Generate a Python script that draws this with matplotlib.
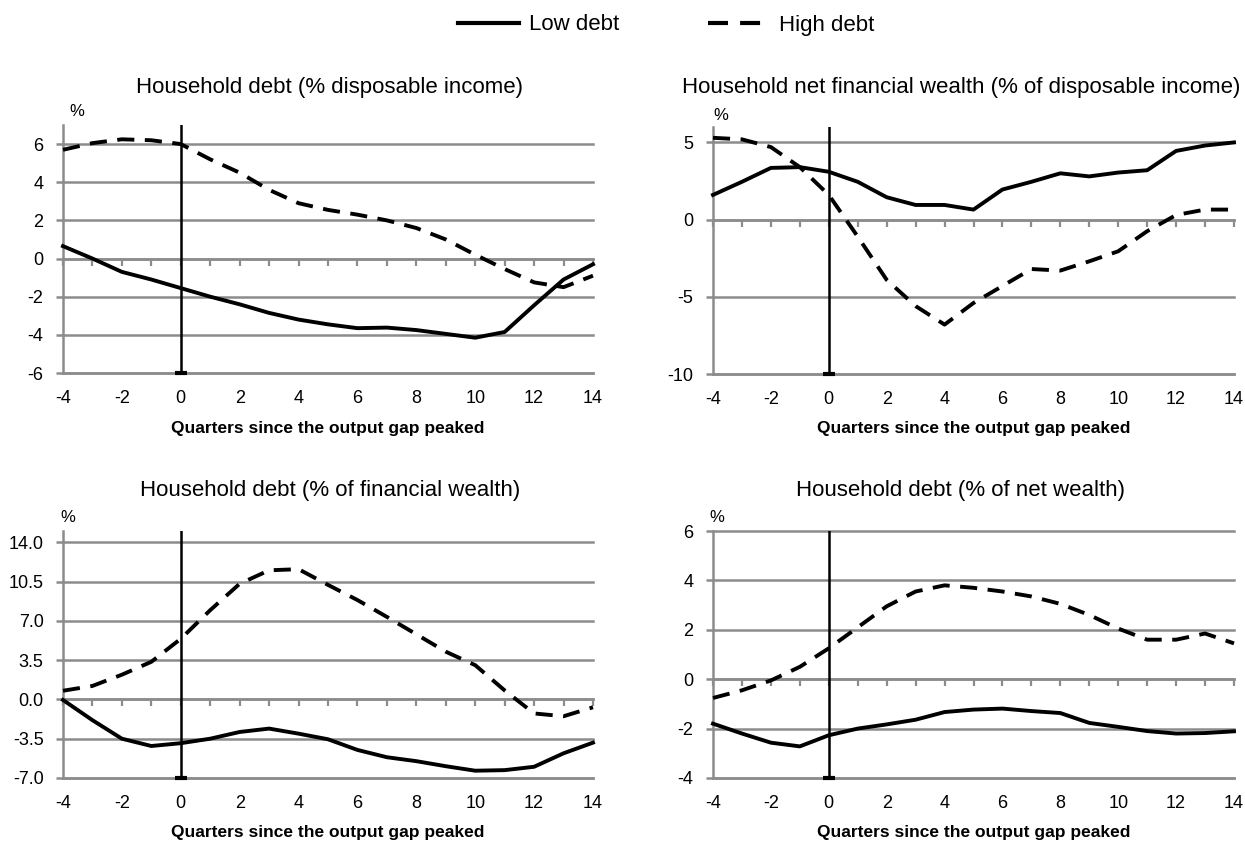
import matplotlib
matplotlib.use("Agg")
import matplotlib.pyplot as plt
from matplotlib.ticker import FormatStrFormatter
from matplotlib.lines import Line2D

plt.rcParams["axes.unicode_minus"] = False

# ---- data -------------------------------------------------------------
quarters = list(range(-4, 15))

# Household debt (% disposable income)
debt_inc_low = [0.65, 0.0, -0.7, -1.1, -1.55, -2.0, -2.4, -2.85, -3.2, -3.45,
                -3.65, -3.62, -3.75, -3.95, -4.15, -3.85, -2.45, -1.1, -0.3]
debt_inc_high = [5.7, 6.05, 6.25, 6.2, 6.0, 5.2, 4.5, 3.6, 2.9, 2.55,
                 2.3, 2.0, 1.6, 1.0, 0.2, -0.55, -1.25, -1.5, -0.9]

# Household net financial wealth (% of disposable income)
nfw_low = [1.6, 2.45, 3.35, 3.4, 3.1, 2.45, 1.45, 0.95, 0.95, 0.65,
           1.95, 2.45, 3.0, 2.8, 3.05, 3.2, 4.45, 4.8, 5.0]
nfw_high = [5.3, 5.2, 4.7, 3.4, 1.6, -1.1, -3.9, -5.6, -6.8, -5.4,
            -4.3, -3.2, -3.3, -2.7, -2.05, -0.75, 0.3, 0.65, 0.65]

# Household debt (% of financial wealth)
debt_fw_low = [-0.05, -1.85, -3.5, -4.15, -3.9, -3.5, -2.9, -2.6, -3.05, -3.55,
               -4.5, -5.15, -5.5, -5.95, -6.35, -6.3, -6.0, -4.8, -3.85]
debt_fw_high = [0.77, 1.2, 2.2, 3.35, 5.4, 7.95, 10.3, 11.5, 11.6, 10.2,
                8.85, 7.35, 5.8, 4.25, 3.05, 0.8, -1.25, -1.5, -0.7]

# Household debt (% of net wealth)
debt_nw_low = [-1.8, -2.2, -2.57, -2.72, -2.27, -2.0, -1.83, -1.64, -1.33, -1.23,
               -1.19, -1.29, -1.37, -1.77, -1.93, -2.1, -2.2, -2.18, -2.11]
debt_nw_high = [-0.76, -0.45, -0.05, 0.5, 1.25, 2.1, 2.95, 3.55, 3.8, 3.7,
                3.55, 3.35, 3.05, 2.6, 2.05, 1.6, 1.6, 1.85, 1.45]

titles = ["Household debt (% disposable income)",
          "Household net financial wealth (% of disposable income)",
          "Household debt (% of financial wealth)",
          "Household debt (% of net wealth)"]
series_labels = ["Low debt", "High debt"]
xlabel_text = "Quarters since the output gap peaked"
xtick_vals = list(range(-4, 15, 2))

# ---- style ------------------------------------------------------------
W, H = 1245, 844
GRID = "#8c8c8c"
NARROW = ["Liberation Sans Narrow", "Liberation Sans", "DejaVu Sans"]
REGULAR = ["Liberation Sans", "DejaVu Sans"]
LW = 2.8
DASH = (4.4, 2.7)

fig = plt.figure(figsize=(W / 100, H / 100), dpi=100)


def frac_box(left, top, right, bottom):
    return [left / W, 1 - bottom / H, (right - left) / W, (bottom - top) / H]


def fpos(x, y):
    return x / W, 1 - y / H


panels = [
    dict(box=frac_box(63, 125, 593, 373), ylim=(-6, 7), yticks=list(range(-6, 7, 2)),
         fmt="%d", low=debt_inc_low, high=debt_inc_high,
         title_xy=(330, 87), pct_xy=(77, 111), xl_y=428),
    dict(box=frac_box(713, 127, 1234, 374), ylim=(-10, 6), yticks=[-10, -5, 0, 5],
         fmt="%d", low=nfw_low, high=nfw_high,
         title_xy=(961, 87), pct_xy=(721, 115), xl_y=428),
    dict(box=frac_box(63, 531, 593, 778), ylim=(-7, 15),
         yticks=[-7.0, -3.5, 0.0, 3.5, 7.0, 10.5, 14.0],
         fmt="%.1f", low=debt_fw_low, high=debt_fw_high,
         title_xy=(330, 490), pct_xy=(68, 517), xl_y=833),
    dict(box=frac_box(713, 531, 1234, 778), ylim=(-4, 6), yticks=list(range(-4, 7, 2)),
         fmt="%d", low=debt_nw_low, high=debt_nw_high,
         title_xy=(961, 490), pct_xy=(717, 518), xl_y=833),
]

for p, title in zip(panels, titles):
    ax = fig.add_axes(p["box"])
    y0, y1 = p["ylim"]
    ax.set_xlim(-4, 14)
    ax.set_ylim(y0, y1)

    # horizontal grid
    ax.set_yticks(p["yticks"])
    ax.yaxis.set_major_formatter(FormatStrFormatter(p["fmt"]))
    ax.grid(axis="y", color=GRID, lw=1.8, clip_on=False, zorder=0)
    ax.set_axisbelow(True)

    for s in ("top", "right"):
        ax.spines[s].set_visible(False)
    ax.spines["left"].set_color(GRID)
    ax.spines["left"].set_linewidth(1.8)
    ax.spines["bottom"].set_color(GRID)
    ax.spines["bottom"].set_linewidth(1.8)

    ax.tick_params(axis="y", length=5, width=1.8, color=GRID, pad=9,
                   labelsize=13, labelfontfamily=NARROW)
    ax.set_xticks(xtick_vals)
    ax.tick_params(axis="x", length=0, pad=12, labelsize=13,
                   labelfontfamily=NARROW)

    # axis line with small ticks at y = 0
    sec = ax.secondary_xaxis(0, transform=ax.transData)
    sec.set_alignment("bottom")
    sec.set_xticks(quarters)
    sec.tick_params(axis="x", direction="out", length=5, width=1.6,
                    color=GRID, labelbottom=False)
    sec.spines["bottom"].set_color(GRID)
    sec.spines["bottom"].set_linewidth(1.8)

    # marker for the output-gap peak
    ax.axvline(0, color="black", lw=1.8, zorder=3)
    ax.plot([0], [y0], marker="_", markersize=9, mew=3, color="black",
            clip_on=False, zorder=3)

    ax.plot(quarters, p["low"], color="black", lw=LW, solid_joinstyle="round",
            zorder=4, clip_on=False)
    ax.plot(quarters, p["high"], color="black", lw=LW, linestyle=(0, DASH),
            dash_capstyle="butt", zorder=4, clip_on=False)

    fig.text(*fpos(*p["title_xy"]), title, ha="center", va="center",
             fontsize=16, family=REGULAR)
    fig.text(*fpos(*p["pct_xy"]), "%", ha="center", va="center",
             fontsize=12, family=NARROW)
    cx = (p["box"][0] + p["box"][2] / 2) * W
    fig.text(*fpos(cx, p["xl_y"]), xlabel_text, ha="center", va="center",
             fontsize=12.5, fontweight="bold", family=NARROW)

handles = [Line2D([], [], color="black", lw=3.0),
           Line2D([], [], color="black", lw=3.0, linestyle=(0, (4.8, 2.9)),
                  dash_capstyle="butt")]
fig.legend(handles, series_labels, loc="center", bbox_to_anchor=fpos(666, 25),
           ncol=2, frameon=False, handlelength=2.75, handletextpad=0.45,
           columnspacing=4.0, prop=dict(family=REGULAR, size=16))

fig.savefig("out.png", dpi=100)
